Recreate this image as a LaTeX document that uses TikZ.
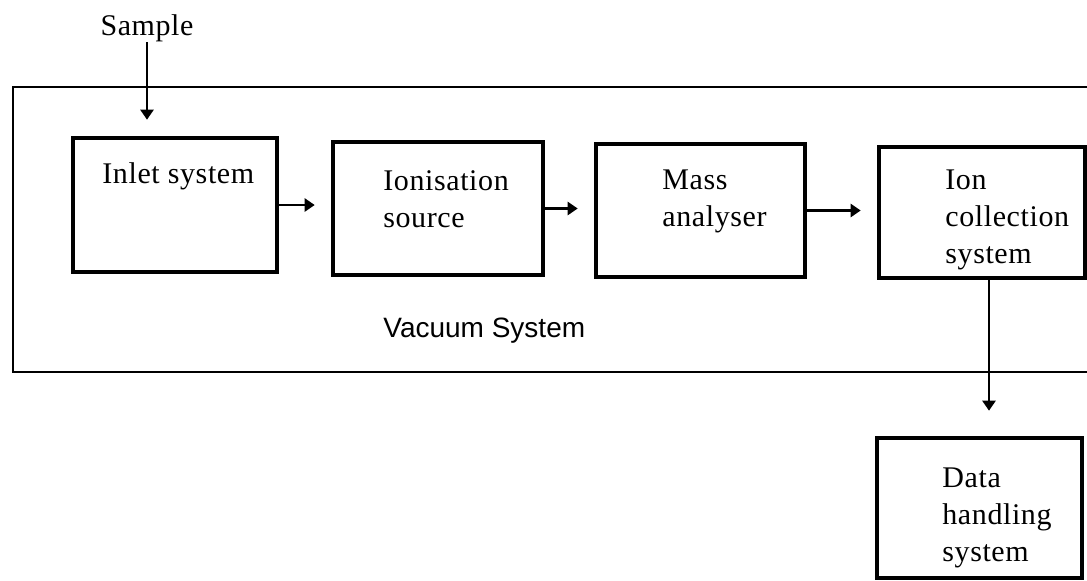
\documentclass[tikz,border=0pt]{standalone}
\usepackage{fontspec}
\setmainfont{Liberation Serif}[LetterSpace=2]
\newfontfamily\labelsans{Liberation Sans}
\usetikzlibrary{arrows.meta}

\begin{document}
\begin{tikzpicture}[x=0.5pt,y=-0.5pt,
  unit/.style={draw=black,line width=2.3pt,inner sep=0pt},
  txt/.style={anchor=west,inner sep=0pt,align=left,font=\fontsize{15}{18.5}\selectfont},
  flow/.style={line width=1.2pt,-{Triangle[width=6.5pt,length=5pt]},shorten >=8pt}]
\useasboundingbox (0,0) rectangle (1087,580);
\fill[white] (0,0) rectangle (1087,580);
\draw[line width=1.4pt] (13,87) rectangle (1110,372);
\node[unit,minimum width=102pt,minimum height=67pt] (inlet) at (175,205) {};
\node[txt] (inlettxt) at (102,176) {Inlet system};
\node[unit,minimum width=105pt,minimum height=66.5pt] (ionsrc) at (438,208.5) {};
\node[txt] (ionsrctxt) at (383,199) {Ionisation\\source};
\node[unit,minimum width=104.5pt,minimum height=66.5pt] (analyser) at (700.5,210.5) {};
\node[txt] (analysertxt) at (662,201) {Mass\\analyser};
\node[unit,minimum width=103pt,minimum height=65.5pt] (collector) at (982,212.5) {};
\node[txt] (collectortxt) at (945,220) {Ion\\collection\\system};
\node[unit,minimum width=102.5pt,minimum height=70pt] (datasys) at (979.5,508) {};
\node[txt] (datasystxt) at (942,518) {Data\\handling\\system};
\node[txt,font=\labelsans\fontsize{14}{18}\selectfont] (vacuum) at (383,331) {Vacuum System};
\node[txt,anchor=center] (sample) at (147,28) {Sample};
\draw[flow] (sample.south) -- (sample.south |- inlet.north);
\draw[flow] (inlet.east) -- (inlet.east -| ionsrc.west);
\draw[flow] (ionsrc.east) -- (ionsrc.east -| analyser.west);
\draw[flow] (analyser.east) -- (analyser.east -| collector.west);
\draw[flow,shorten >=12.5pt] ([xshift=3.5pt]collector.south) -- ([xshift=3.5pt]collector.south |- datasys.north);
\end{tikzpicture}
\end{document}
